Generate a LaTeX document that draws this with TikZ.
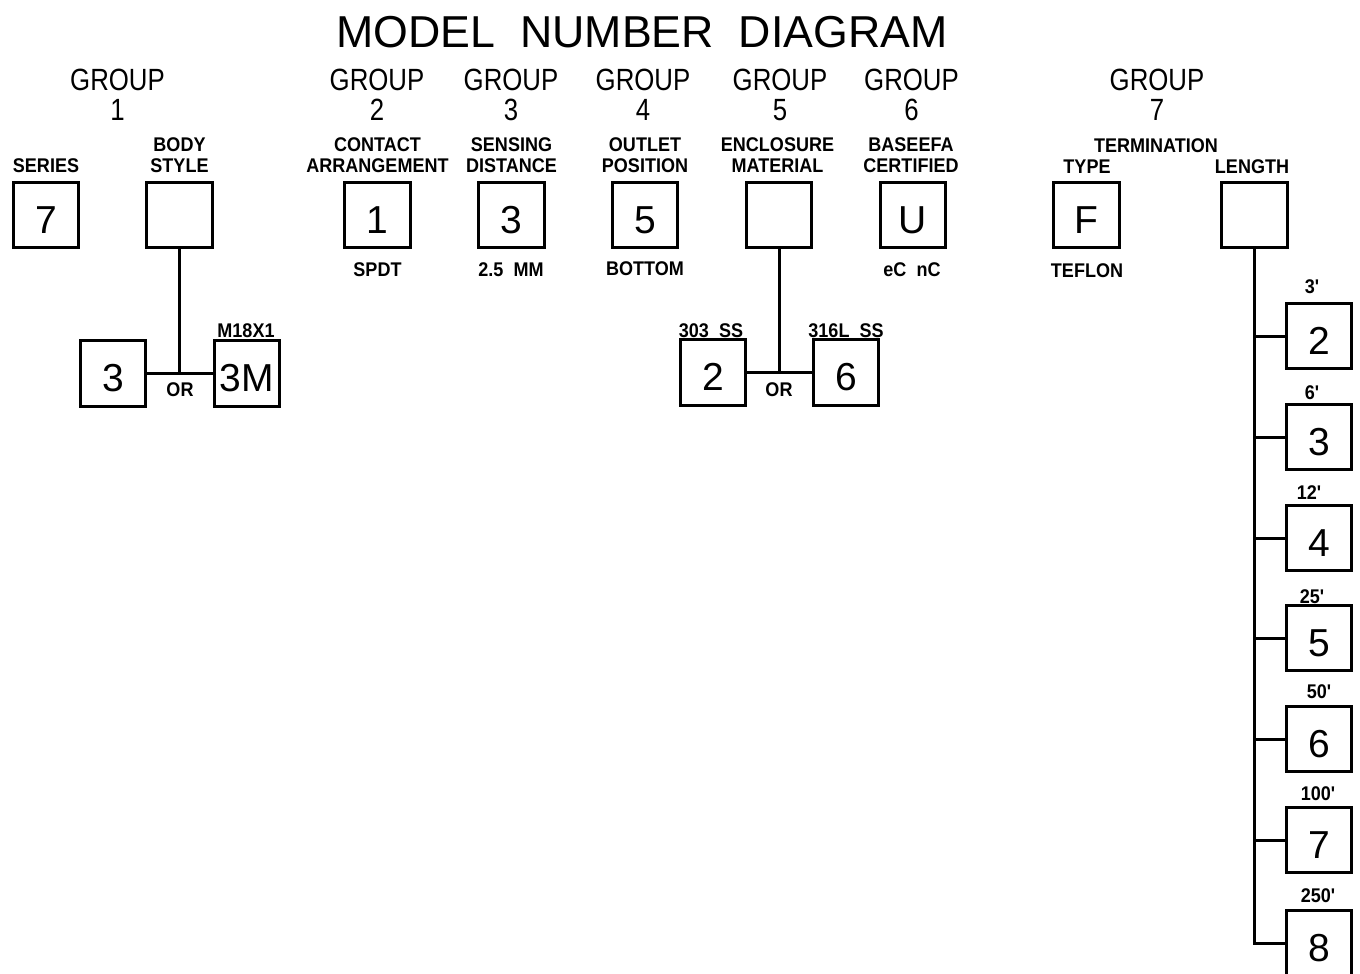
\documentclass[tikz,border=0pt]{standalone}
\usepackage{fontspec}
\setmainfont{Liberation Sans}
\newfontfamily\thinfont{Liberation Sans}
\newfontfamily\groupfont[FakeStretch=0.84]{Liberation Sans}
\newfontfamily\lblfont[FakeStretch=0.91]{Liberation Sans}
\begin{document}
\begin{tikzpicture}[x=1pt,y=-1pt,
  box/.style={draw, line width=3pt, minimum size=65.5pt, inner sep=0pt,
    text height=36pt, text depth=0pt,
    font=\fontsize{39}{39}\selectfont\thinfont},
  lbl/.style={font=\fontsize{19.8}{21}\selectfont\lblfont\bfseries, inner sep=0pt, anchor=base},
  grp/.style={font=\fontsize{30.7}{31}\selectfont\groupfont, inner sep=0pt, anchor=base},
  ttl/.style={font=\fontsize{44.7}{45}\selectfont\thinfont, inner sep=0pt, anchor=base},
  conn/.style={line width=3pt}]
\clip (0,0) rectangle (1360,974);
\fill[white] (0,0) rectangle (1360,974);

% title
\node[ttl] (title) at (642,48) {MODEL\ \ NUMBER\ \ DIAGRAM};

% group headings
\node[grp] (g1a) at (117.5,90) {GROUP};  \node[grp] (g1b) at (117.5,120) {1};
\node[grp] (g2a) at (377,90) {GROUP};    \node[grp] (g2b) at (377,120) {2};
\node[grp] (g3a) at (511,90) {GROUP};    \node[grp] (g3b) at (511,120) {3};
\node[grp] (g4a) at (643,90) {GROUP};    \node[grp] (g4b) at (643,120) {4};
\node[grp] (g5a) at (780,90) {GROUP};    \node[grp] (g5b) at (780,120) {5};
\node[grp] (g6a) at (911.5,90) {GROUP};  \node[grp] (g6b) at (911.5,120) {6};
\node[grp] (g7a) at (1157,90) {GROUP};   \node[grp] (g7b) at (1157,120) {7};

% labels above boxes
\node[lbl] (lser) at (46,172) {SERIES};
\node[lbl] (lbod1) at (179.5,151) {BODY};
\node[lbl] (lbod2) at (179.5,172) {STYLE};
\node[lbl] (lcon1) at (377.5,151) {CONTACT};
\node[lbl] (lcon2) at (377.5,172) {ARRANGEMENT};
\node[lbl] (lsen1) at (511.5,151) {SENSING};
\node[lbl] (lsen2) at (511.5,172) {DISTANCE};
\node[lbl] (lout1) at (645,151) {OUTLET};
\node[lbl] (lout2) at (645,172) {POSITION};
\node[lbl] (lenc1) at (777.5,151) {ENCLOSURE};
\node[lbl] (lenc2) at (777.5,172) {MATERIAL};
\node[lbl] (lbas1) at (911,151) {BASEEFA};
\node[lbl] (lbas2) at (911,172) {CERTIFIED};
\node[lbl] (lter) at (1156,152) {TERMINATION};
\node[lbl] (ltyp) at (1087,173) {TYPE};
\node[lbl] (llen) at (1252,173) {LENGTH};

% main boxes
\node[box] (series) at (46,215) {7};
\node[box] (body) at (179.5,215) {};
\node[box] (g2box) at (377.5,215) {1};
\node[box] (g3box) at (511.5,215) {3};
\node[box] (g4box) at (645,215) {5};
\node[box] (g5box) at (779,215) {};
\node[box] (g6box) at (913,215) {U};
\node[box] (typ) at (1086.5,215) {F};
\node[box] (len) at (1254.5,215) {};

% labels below boxes
\node[lbl] (lspdt) at (377.5,276) {SPDT};
\node[lbl] (lmm) at (511,276) {2.5\ \ MM};
\node[lbl] (lbot) at (645,275) {BOTTOM};
\node[lbl] (lec) at (912,276) {eC\ \ nC};
\node[lbl] (ltef) at (1087,277) {TEFLON};

% body style options
\node[box] (b3) at (113,373.5) {3};
\node[box] (b3m) at (247,373.5) {3M};
\node[lbl] (lm18) at (246,337) {M18X1};
\node[lbl] (lor1) at (180,396) {OR};
\draw[conn] (body.south) -- (body.south |- b3.east);
\draw[conn] (b3.east) -- (b3m.west);

% enclosure options
\node[box] (e2) at (713,372.5) {2};
\node[box] (e6) at (846,372.5) {6};
\node[lbl] (l303) at (711,337) {303\ \ SS};
\node[lbl] (l316) at (846,337) {316L\ \ SS};
\node[lbl] (lor2) at (779,396) {OR};
\draw[conn] (g5box.south) -- (g5box.south |- e2.east);
\draw[conn] (e2.east) -- (e6.west);

% length options
\node[box] (c2) at (1319,336) {2};
\node[box] (c3) at (1319,437) {3};
\node[box] (c4) at (1319,538) {4};
\node[box] (c5) at (1319,638) {5};
\node[box] (c6) at (1319,739) {6};
\node[box] (c7) at (1319,840) {7};
\node[box] (c8) at (1319,943) {8};
\node[lbl] (l3f) at (1312,293) {3'};
\node[lbl] (l6f) at (1312,399) {6'};
\node[lbl] (l12f) at (1309,499) {12'};
\node[lbl] (l25f) at (1312,603) {25'};
\node[lbl] (l50f) at (1319,698) {50'};
\node[lbl] (l100f) at (1318,800) {100'};
\node[lbl] (l250f) at (1318,902) {250'};
\draw[conn] (len.south) |- (c8.west);
\foreach \c in {c2,c3,c4,c5,c6,c7}
  \draw[conn] (len.south |- \c.west) -- (\c.west);
\end{tikzpicture}
\end{document}
